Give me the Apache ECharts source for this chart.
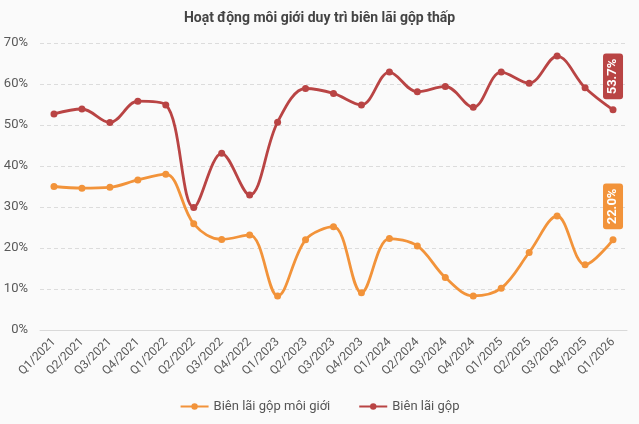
<!DOCTYPE html>
<html>
<head>
<meta charset="utf-8">
<script src="https://cdn.jsdelivr.net/npm/echarts@6/dist/echarts.min.js"></script>
<style>
html, body { margin: 0; padding: 0; background: #fafafa; }
#chart { width: 639px; height: 424px; }
</style>
</head>
<body>
<div id="chart"></div>
<script>
// quý
var quarters = ['Q1/2021', 'Q2/2021', 'Q3/2021', 'Q4/2021', 'Q1/2022', 'Q2/2022', 'Q3/2022',
	'Q4/2022', 'Q1/2023', 'Q2/2023', 'Q3/2023', 'Q4/2023', 'Q1/2024', 'Q2/2024', 'Q3/2024',
	'Q4/2024', 'Q1/2025', 'Q2/2025', 'Q3/2025', 'Q4/2025', 'Q1/2026'];
// biên lãi gộp môi giới (%)
var brokerMargin = [35.0, 34.6, 34.8, 36.6, 38.0, 25.9, 22.1, 23.2, 8.3, 22.0, 25.2, 9.1,
	22.3, 20.5, 12.8, 8.3, 10.2, 18.9, 27.8, 15.9, 22.0];
// biên lãi gộp (%)
var grossMargin = [52.7, 53.9, 50.6, 55.8, 54.9, 29.9, 43.1, 32.9, 50.7, 58.9, 57.7, 54.9,
	62.9, 58.1, 59.4, 54.3, 62.9, 60.2, 66.8, 59.1, 53.7];
var seriesNames = ['Biên lãi gộp môi giới', 'Biên lãi gộp'];
var colors = ['#F2933A', '#B94444'];

var font = '"Roboto", "Noto Sans", sans-serif';

// nhãn dọc cho điểm cuối
function lastLabel(color) {
	return {
		show: true,
		position: 'top',
		distance: 7,
		rotate: 90,
		align: 'left',
		verticalAlign: 'middle',
		backgroundColor: color,
		borderRadius: 3,
		padding: [4, 5, 3, 5],
		color: '#fff',
		fontFamily: font,
		fontWeight: 'bold',
		fontSize: 13,
		formatter: function (p) {
			return p.value.toFixed(1) + '%';
		}
	};
}

function makeSeries(name, values, color) {
	var data = values.map(function (v, i) {
		if (i == values.length - 1) {
			return { value: v, label: lastLabel(color) };
		}
		return v;
	});
	return {
		name: name,
		type: 'line',
		data: data,
		smooth: 0.35,
		symbol: 'circle',
		symbolSize: 7,
		lineStyle: { width: 2.8, color: color },
		itemStyle: { color: color },
		label: { show: false },
		z: 3
	};
}

var myChart = echarts.init(document.getElementById('chart'));
var option = {
	backgroundColor: '#fafafa',
	animation: false,
	title: {
		text: 'Hoạt động môi giới duy trì biên lãi gộp thấp',
		left: 'center',
		top: 6,
		textStyle: { fontFamily: font, fontSize: 14, fontWeight: 'bold', color: '#444' }
	},
	legend: {
		bottom: 6,
		itemWidth: 28,
		itemHeight: 8,
		itemGap: 28,
		data: seriesNames,
		textStyle: { fontFamily: font, fontSize: 13, color: '#555' }
	},
	grid: { left: 40, right: 12, top: 43, bottom: 94 },
	xAxis: {
		type: 'category',
		data: quarters,
		boundaryGap: true,
		axisLine: { lineStyle: { color: '#d9d9d9' } },
		axisTick: { show: false },
		axisLabel: { rotate: 45, interval: 0, color: '#595959', fontFamily: font, fontSize: 12, margin: 10 }
	},
	yAxis: {
		type: 'value',
		min: 0,
		max: 70,
		interval: 10,
		axisLine: { show: false },
		axisTick: { show: false },
		axisLabel: { formatter: '{value}%', color: '#595959', fontFamily: font, fontSize: 13, margin: 12 },
		splitLine: { lineStyle: { color: '#dcdcdc', type: [4, 3] } }
	},
	series: [
		makeSeries(seriesNames[0], brokerMargin, colors[0]),
		makeSeries(seriesNames[1], grossMargin, colors[1])
	]
};
myChart.setOption(option);
</script>
</body>
</html>
